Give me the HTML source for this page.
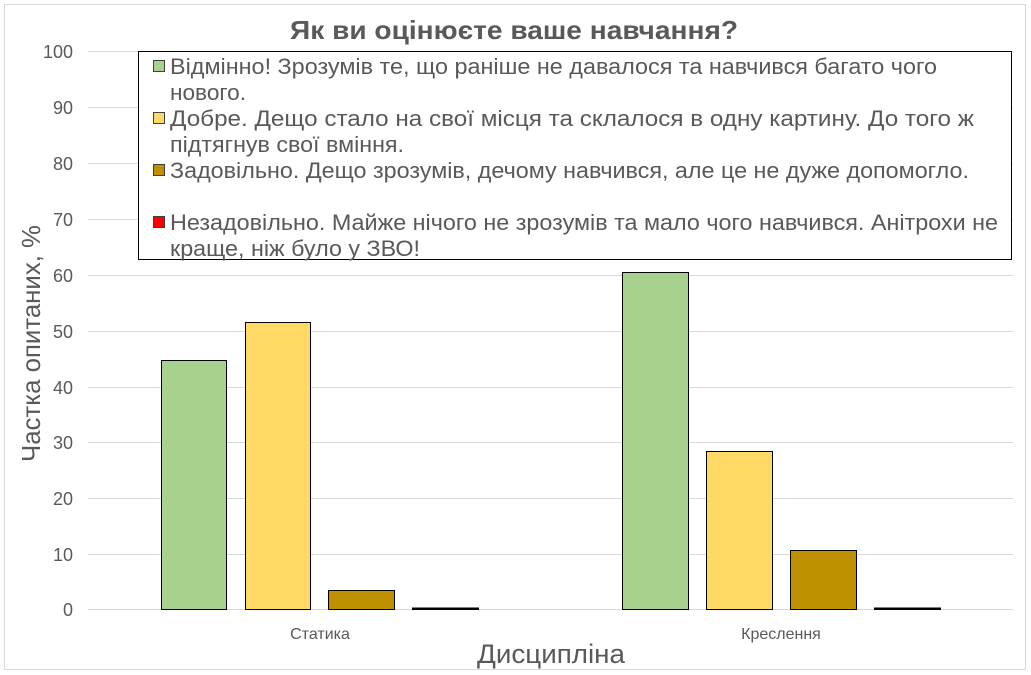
<!DOCTYPE html>
<html><head><meta charset="utf-8"><style>
body{margin:0;background:#fff}
svg{display:block}
text{font-family:"Liberation Sans",Arial,sans-serif}
</style></head><body>
<svg width="1031" height="675" viewBox="0 0 1031 675" xmlns="http://www.w3.org/2000/svg">
<rect x="4.5" y="4.5" width="1021" height="665" fill="#fff" stroke="#d9d9d9"/>
<text x="290" y="39" textLength="448" lengthAdjust="spacingAndGlyphs" font-size="26" font-weight="bold" fill="#595959">Як ви оцінюєте ваше навчання?</text>
<g stroke="#d9d9d9" stroke-width="1">
<line x1="88" x2="1013" y1="51.5" y2="51.5"/>
<line x1="88" x2="1013" y1="107.5" y2="107.5"/>
<line x1="88" x2="1013" y1="163.5" y2="163.5"/>
<line x1="88" x2="1013" y1="219.5" y2="219.5"/>
<line x1="88" x2="1013" y1="275.5" y2="275.5"/>
<line x1="88" x2="1013" y1="331.5" y2="331.5"/>
<line x1="88" x2="1013" y1="387.5" y2="387.5"/>
<line x1="88" x2="1013" y1="442.5" y2="442.5"/>
<line x1="88" x2="1013" y1="498.5" y2="498.5"/>
<line x1="88" x2="1013" y1="554.5" y2="554.5"/>
<line x1="88" x2="1013" y1="609.5" y2="609.5"/>
</g>
<g font-size="18" fill="#595959" text-anchor="end">
<text x="73" y="58">100</text><text x="73" y="114">90</text><text x="73" y="170">80</text>
<text x="73" y="226">70</text><text x="73" y="282">60</text><text x="73" y="338">50</text>
<text x="73" y="394">40</text><text x="73" y="449">30</text><text x="73" y="505">20</text>
<text x="73" y="561">10</text><text x="73" y="616">0</text>
</g>
<g stroke="#000" stroke-width="1">
<rect x="161.5" y="360.5" width="65" height="249" fill="#a9d18e"/>
<rect x="245.5" y="322.5" width="65" height="287" fill="#ffd966"/>
<rect x="328.5" y="590.5" width="66" height="19" fill="#bf9000"/>
<rect x="412.5" y="608" width="66" height="1.5" fill="#000"/>
<rect x="622.5" y="272.5" width="66" height="337" fill="#a9d18e"/>
<rect x="706.5" y="451.5" width="66" height="158" fill="#ffd966"/>
<rect x="790.5" y="550.5" width="66" height="59" fill="#bf9000"/>
<rect x="874.5" y="608" width="66" height="1.5" fill="#000"/>
</g>
<g font-size="16" fill="#595959" text-anchor="middle">
<text x="320" y="639">Статика</text>
<text x="781" y="639">Креслення</text>
</g>
<text x="477" y="663" textLength="148" lengthAdjust="spacingAndGlyphs" font-size="27" fill="#595959">Дисципліна</text>
<text transform="translate(40,462) rotate(-90)" textLength="237" lengthAdjust="spacingAndGlyphs" font-size="26" fill="#595959">Частка опитаних, %</text>
<rect x="138.5" y="51.5" width="873" height="208" fill="#fff" stroke="#000"/>
<g stroke="#404040" stroke-width="1">
<rect x="153.5" y="60.5" width="11" height="11" fill="#a9d18e"/>
<rect x="153.5" y="112.5" width="11" height="11" fill="#ffd966"/>
<rect x="153.5" y="164.5" width="11" height="11" fill="#bf9000"/>
<rect x="153.5" y="216.5" width="11" height="11" fill="#ff0000"/>
</g>
<g font-size="22" fill="#595959">
<text x="170" y="74" textLength="767" lengthAdjust="spacingAndGlyphs">Відмінно! Зрозумів те, що раніше не давалося та навчився багато чого</text>
<text x="170" y="100" textLength="76" lengthAdjust="spacingAndGlyphs">нового.</text>
<text x="170" y="126" textLength="804" lengthAdjust="spacingAndGlyphs">Добре. Дещо стало на свої місця та склалося в одну картину. До того ж</text>
<text x="170" y="152" textLength="234" lengthAdjust="spacingAndGlyphs">підтягнув свої вміння.</text>
<text x="170" y="178" textLength="799" lengthAdjust="spacingAndGlyphs">Задовільно. Дещо зрозумів, дечому навчився, але це не дуже допомогло.</text>
<text x="170" y="230" textLength="828" lengthAdjust="spacingAndGlyphs">Незадовільно. Майже нічого не зрозумів та мало чого навчився. Анітрохи не</text>
<text x="170" y="256" textLength="250" lengthAdjust="spacingAndGlyphs">краще, ніж було у ЗВО!</text>
</g>
</svg>
</body></html>
